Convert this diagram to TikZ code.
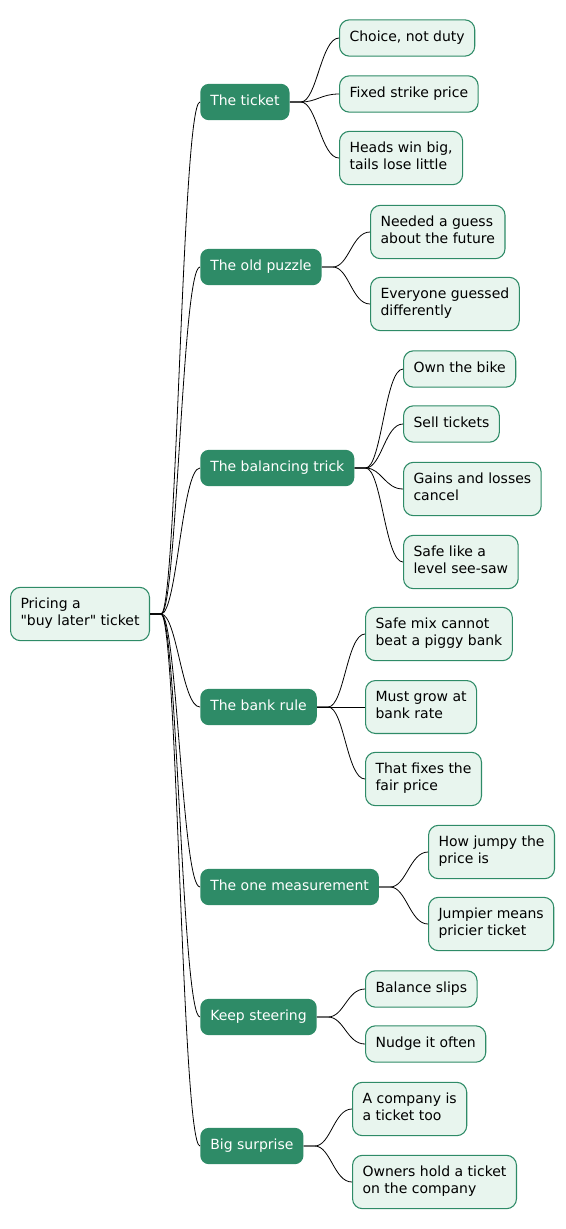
\documentclass[tikz,border=0pt]{standalone}
\usepackage{fontspec}
\setmainfont{DejaVu Sans}
\newfontfamily\mapfont{DejaVu Sans}
\definecolor{mapgreen}{RGB}{46,139,103}
\definecolor{leafbg}{RGB}{232,245,238}
\newcommand{\mstrut}{\rule[-2.8pt]{0pt}{10.6pt}}
\begin{document}
\begin{tikzpicture}[x=0.75pt,y=-0.75pt]
\tikzset{
  box/.style={anchor=west,align=left,font=\mapfont\fontsize{10.5}{12.75}\selectfont,
    inner xsep=7.5pt,inner ysep=8.25pt,minimum height=27pt,
    execute at begin node=\mstrut,execute at end node=\mstrut},
  leaf/.style={box,draw=mapgreen,fill=leafbg,line width=0.8pt,rounded corners=7.5pt},
  topic/.style={box,fill=mapgreen,text=white,rounded corners=6.5pt},
  link/.style={line width=0.6pt}
}
\useasboundingbox (0,0) rectangle (565,1229);

% root
\node[leaf] (root) at (10,614) {Pricing a\\"buy later" ticket};

% main branches
\node[topic] (ticket) at (200,102) {The ticket};
\node[topic] (puzzle) at (200,267) {The old puzzle};
\node[topic] (trick) at (200,468) {The balancing trick};
\node[topic] (bank) at (200,707) {The bank rule};
\node[topic] (measure) at (200,887) {The one measurement};
\node[topic] (steer) at (200,1017) {Keep steering};
\node[topic] (surprise) at (200,1146) {Big surprise};

% leaves
\node[leaf] (choice) at (339,38) {Choice, not duty};
\node[leaf] (strike) at (339,94) {Fixed strike price};
\node[leaf] (heads) at (339,158) {Heads win big,\\tails lose little};

\node[leaf] (guess) at (370,232) {Needed a guess\\about the future};
\node[leaf] (everyone) at (370,304) {Everyone guessed\\differently};

\node[leaf] (bike) at (403,369) {Own the bike};
\node[leaf] (sell) at (403,424) {Sell tickets};
\node[leaf] (gains) at (403,489) {Gains and losses\\cancel};
\node[leaf] (seesaw) at (403,562) {Safe like a\\level see-saw};

\node[leaf] (mix) at (365,634) {Safe mix cannot\\beat a piggy bank};
\node[leaf] (grow) at (365,707) {Must grow at\\bank rate};
\node[leaf] (fair) at (365,779) {That fixes the\\fair price};

\node[leaf] (jumpy) at (428,852) {How jumpy the\\price is};
\node[leaf] (pricier) at (428,924) {Jumpier means\\pricier ticket};

\node[leaf] (slips) at (365,989) {Balance slips};
\node[leaf] (nudge) at (365,1044) {Nudge it often};

\node[leaf] (company) at (352,1109) {A company is\\a ticket too};
\node[leaf] (owners) at (352,1182) {Owners hold a ticket\\on the company};

% connectors
\foreach \a/\b in {root/ticket,root/puzzle,root/trick,root/bank,root/measure,root/steer,root/surprise,
  ticket/choice,ticket/strike,ticket/heads,puzzle/guess,puzzle/everyone,
  trick/bike,trick/sell,trick/gains,trick/seesaw,bank/mix,bank/grow,bank/fair,
  measure/jumpy,measure/pricier,steer/slips,steer/nudge,surprise/company,surprise/owners}
  \draw[link] (\a.east) -- ++(11,0) .. controls +(16,0) and +(-18,0) .. (\b.west);

\end{tikzpicture}
\end{document}
